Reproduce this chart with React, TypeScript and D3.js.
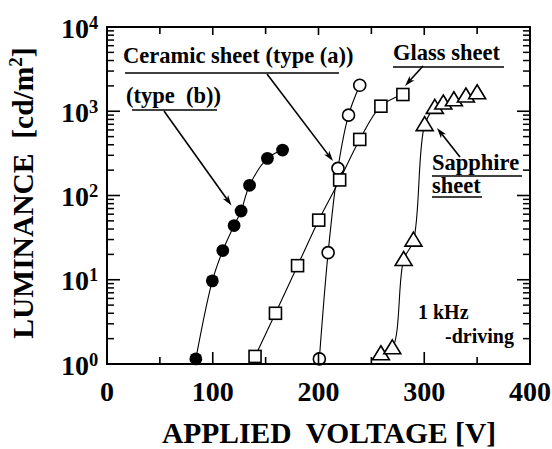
import React from "react";
import * as d3 from "d3";

const typeBV = [84, 99.6, 109.5, 120.2, 126.8, 134.8, 151.7, 166];
const typeBL = [1.15, 9.7, 22.2, 44, 65.5, 132, 276, 346];

const typeAV = [200.8, 209.1, 218.4, 228.4, 239];
const typeAL = [1.15, 21, 210, 899, 2037];

const glassV = [140, 159.3, 180.2, 200.2, 220, 239, 259, 279.8];
const glassL = [1.23, 4.0, 14.7, 51, 153, 463, 1148, 1580];

const sapphV = [259, 269.8, 280.5, 289.8, 300.4, 310, 318, 328, 339.4, 350];
const sapphL = [1.31, 1.54, 17.2, 29.2, 686, 1100, 1240, 1355, 1500, 1640];

const xTicks = [0, 100, 200, 300, 400];
const xMinor = [50, 150, 250, 350];
const yDecades = [0, 1, 2, 3, 4];

const W = 552, H = 449;
const L = 107, R = 530, T = 27, B = 364;
const FONT = "'Liberation Serif', 'Times New Roman', serif";

export default function App() {
  const x = d3.scaleLinear().domain([0, 400]).range([L, R]);
  const y = d3.scaleLog().domain([1, 10000]).range([B, T]);

  const line = d3
    .line<[number, number]>()
    .x((d) => x(d[0]))
    .y((d) => y(d[1]))
    .curve(d3.curveCatmullRom.alpha(0.5));

  const zip = (a: number[], b: number[]) => a.map((v, i) => [v, b[i]] as [number, number]);
  const sB = zip(typeBV, typeBL);
  const sA = zip(typeAV, typeAL);
  const sG = zip(glassV, glassL);
  const sS = zip(sapphV, sapphL);

  const minorY: number[] = [];
  for (let e = 0; e < 4; e++) for (let k = 2; k <= 9; k++) minorY.push(k * Math.pow(10, e));

  const tri = (cx: number, cy: number) => {
    const h = 14, w = 17;
    return `M${cx},${cy - h * 0.6}L${cx + w / 2},${cy + h * 0.4}L${cx - w / 2},${cy + h * 0.4}Z`;
  };

  const arrow = (x1: number, y1: number, x2: number, y2: number, key: string) => {
    const ang = Math.atan2(y2 - y1, x2 - x1);
    const len = 11, half = 0.3;
    const p1 = [x2 - len * Math.cos(ang - half), y2 - len * Math.sin(ang - half)];
    const p2 = [x2 - len * Math.cos(ang + half), y2 - len * Math.sin(ang + half)];
    const pm = [x2 - len * 0.7 * Math.cos(ang), y2 - len * 0.7 * Math.sin(ang)];
    return (
      <g key={key}>
        <line x1={x1} y1={y1} x2={pm[0]} y2={pm[1]} stroke="#000" strokeWidth={1.6} />
        <path d={`M${x2},${y2}L${p1[0]},${p1[1]}L${pm[0]},${pm[1]}L${p2[0]},${p2[1]}Z`} fill="#000" />
      </g>
    );
  };

  return (
    <svg width={W} height={H} style={{ position: "absolute", left: 0, top: 0, background: "#fff" }} fontFamily={FONT} fontWeight="bold">
      {/* lines */}
      {[sB, sA, sG, sS].map((s, i) => (
        <path key={i} d={line(s) || ""} fill="none" stroke="#000" strokeWidth={1.1} />
      ))}
      {/* markers */}
      {sB.map((d, i) => (
        <circle key={"b" + i} cx={x(d[0])} cy={y(d[1])} r={6.4} fill="#000" />
      ))}
      {sA.map((d, i) => (
        <circle key={"a" + i} cx={x(d[0])} cy={y(d[1])} r={6} fill="#fff" stroke="#000" strokeWidth={1.6} />
      ))}
      {sG.map((d, i) => (
        <rect key={"g" + i} x={x(d[0]) - 6} y={y(d[1]) - 6} width={12} height={12} fill="#fff" stroke="#000" strokeWidth={1.6} />
      ))}
      {sS.map((d, i) => (
        <path key={"s" + i} d={tri(x(d[0]), y(d[1]))} fill="#fff" stroke="#000" strokeWidth={1.6} strokeLinejoin="miter" />
      ))}

      {/* frame */}
      <rect x={L} y={T} width={R - L} height={B - T} fill="none" stroke="#000" strokeWidth={2} />
      {/* x ticks */}
      {xTicks.map((t) => (
        <g key={"xt" + t}>
          <line x1={x(t)} x2={x(t)} y1={B} y2={B - 12} stroke="#000" strokeWidth={1.6} />
          <line x1={x(t)} x2={x(t)} y1={T} y2={T + 8} stroke="#000" strokeWidth={1.6} />
          <text x={x(t)} y={401} textAnchor="middle" fontSize={28}>{t}</text>
        </g>
      ))}
      {xMinor.map((t) => (
        <g key={"xm" + t}>
          <line x1={x(t)} x2={x(t)} y1={B} y2={B - 7} stroke="#000" strokeWidth={1.6} />
          <line x1={x(t)} x2={x(t)} y1={T} y2={T + 7} stroke="#000" strokeWidth={1.6} />
        </g>
      ))}
      {/* y ticks */}
      {yDecades.map((e) => {
        const yy = y(Math.pow(10, e));
        return (
          <g key={"yd" + e}>
            <line x1={L} x2={L + 13} y1={yy} y2={yy} stroke="#000" strokeWidth={1.6} />
            <line x1={R} x2={R - 13} y1={yy} y2={yy} stroke="#000" strokeWidth={1.6} />
            <text x={89} y={yy + 10.5} textAnchor="end" fontSize={28}>10</text>
            <text x={89} y={yy + 1.5} textAnchor="start" fontSize={18.5}>{e}</text>
          </g>
        );
      })}
      {minorY.map((v, i) => (
        <g key={"ym" + i}>
          <line x1={L} x2={L + 7} y1={y(v)} y2={y(v)} stroke="#000" strokeWidth={1.5} />
          <line x1={R} x2={R - 7} y1={y(v)} y2={y(v)} stroke="#000" strokeWidth={1.5} />
        </g>
      ))}

      {/* axis titles */}
      <text x={329} y={443} textAnchor="middle" fontSize={29.5} style={{ whiteSpace: "pre" }}>
        {"APPLIED  VOLTAGE [V]"}
      </text>
      <text transform="translate(33,193) rotate(-90)" textAnchor="middle" fontSize={29.5} style={{ whiteSpace: "pre" }}>
        {"LUMINANCE  [cd/m"}
        <tspan fontSize={19} dy={-11}>2</tspan>
        <tspan dy={11}>]</tspan>
      </text>

      {/* annotations */}
      <text x={123} y={63} fontSize={22.5}>Ceramic sheet (type (a))</text>
      <line x1={125} x2={339} y1={73} y2={73} stroke="#000" strokeWidth={1.6} />
      {arrow(267, 74, 333, 161, "aa")}

      <text x={126} y={103} fontSize={22.5} style={{ whiteSpace: "pre" }}>{"(type  (b))"}</text>
      <line x1={132} x2={217} y1={110} y2={110} stroke="#000" strokeWidth={1.6} />
      {arrow(164, 111, 231.5, 205.5, "ab")}

      <text x={393} y={60} fontSize={22.5}>Glass sheet</text>
      <line x1={393} x2={504} y1={67} y2={67} stroke="#000" strokeWidth={1.6} />
      {arrow(423, 66, 405, 86, "ag")}

      <text x={432} y={170} fontSize={22.5}>Sapphire</text>
      <line x1={432} x2={522} y1={176} y2={176} stroke="#000" strokeWidth={1.6} />
      <text x={432} y={193} fontSize={22.5}>sheet</text>
      <line x1={432} x2={482} y1={197} y2={197} stroke="#000" strokeWidth={1.6} />
      {arrow(460, 157, 437, 128, "as")}

      <text x={418} y={319} fontSize={20}>1 kHz</text>
      <text x={445} y={343} fontSize={20}>-driving</text>
    </svg>
  );
}
